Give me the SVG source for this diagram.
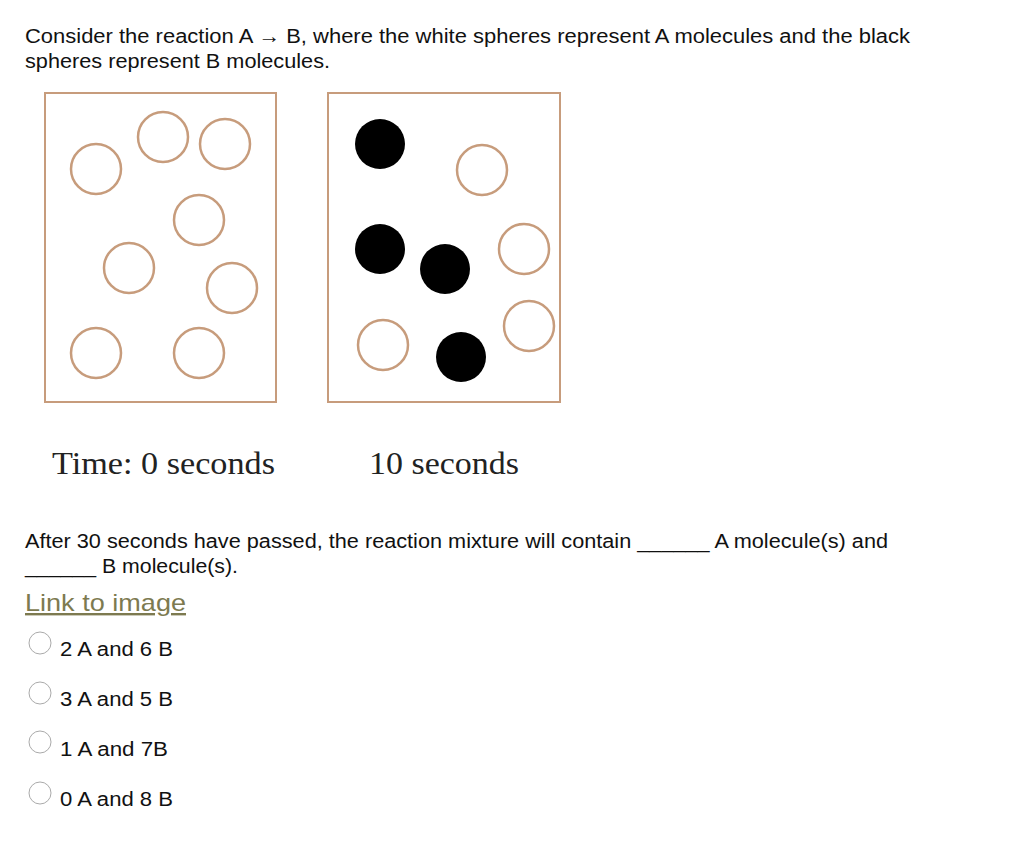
<svg xmlns="http://www.w3.org/2000/svg" width="1024" height="854" viewBox="0 0 1024 854">
<style>
.t{font-family:"Liberation Sans",Arial,sans-serif;font-size:20px;fill:#111}
.s{font-family:"Liberation Serif","Times New Roman",serif;font-size:31px;fill:#222}
.w{fill:#fff;stroke:#c79c7c;stroke-width:2.5}
.b{fill:#000}
.box{fill:#fff;stroke:#c79c7c;stroke-width:2}
.r{fill:#fff;stroke:#aaa;stroke-width:1}
</style>
<rect width="1024" height="854" fill="#fff"/>
<text class="t" x="25" y="43" textLength="885" lengthAdjust="spacingAndGlyphs">Consider the reaction A → B, where the white spheres represent A molecules and the black</text>
<text class="t" x="25" y="68" textLength="305" lengthAdjust="spacingAndGlyphs">spheres represent B molecules.</text>
<rect class="box" x="45" y="93" width="231" height="309"/>
<rect class="box" x="328" y="93" width="232" height="309"/>
<circle class="w" cx="96" cy="169" r="25"/>
<circle class="w" cx="163" cy="137" r="25"/>
<circle class="w" cx="225" cy="144" r="25"/>
<circle class="w" cx="199" cy="220" r="25"/>
<circle class="w" cx="129" cy="268" r="25"/>
<circle class="w" cx="232" cy="288" r="25"/>
<circle class="w" cx="96" cy="353" r="25"/>
<circle class="w" cx="199" cy="353" r="25"/>
<circle class="b" cx="380" cy="144" r="25"/>
<circle class="b" cx="380" cy="249" r="25"/>
<circle class="b" cx="445" cy="269" r="25"/>
<circle class="b" cx="461" cy="357" r="25"/>
<circle class="w" cx="482" cy="170" r="25"/>
<circle class="w" cx="524" cy="249" r="25"/>
<circle class="w" cx="383" cy="345" r="25"/>
<circle class="w" cx="529" cy="326" r="25"/>
<text class="s" x="52" y="474" textLength="223" lengthAdjust="spacingAndGlyphs">Time: 0 seconds</text>
<text class="s" x="369" y="474" textLength="150" lengthAdjust="spacingAndGlyphs">10 seconds</text>
<text class="t" x="25" y="548" textLength="863" lengthAdjust="spacingAndGlyphs">After 30 seconds have passed, the reaction mixture will contain ______ A molecule(s) and</text>
<text class="t" x="25" y="573" textLength="213" lengthAdjust="spacingAndGlyphs">______ B molecule(s).</text>
<text x="25" y="611" textLength="161" lengthAdjust="spacingAndGlyphs" style="font-family:'Liberation Sans',Arial,sans-serif;font-size:24px;fill:#7d7a50;text-decoration:underline">Link to image</text>
<circle class="r" cx="40" cy="643" r="11"/>
<text class="t" x="60" y="656" textLength="113" lengthAdjust="spacingAndGlyphs">2 A and 6 B</text>
<circle class="r" cx="40" cy="693" r="11"/>
<text class="t" x="60" y="706" textLength="113" lengthAdjust="spacingAndGlyphs">3 A and 5 B</text>
<circle class="r" cx="40" cy="742" r="11"/>
<text class="t" x="60" y="756" textLength="108" lengthAdjust="spacingAndGlyphs">1 A and 7B</text>
<circle class="r" cx="40" cy="793" r="11"/>
<text class="t" x="60" y="806" textLength="113" lengthAdjust="spacingAndGlyphs">0 A and 8 B</text>
</svg>
